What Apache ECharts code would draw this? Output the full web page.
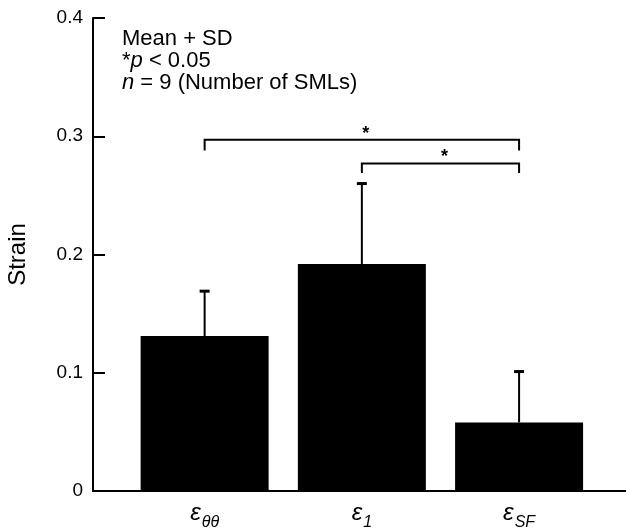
<!DOCTYPE html>
<html>
<head>
<meta charset="utf-8">
<script src="https://cdn.jsdelivr.net/npm/echarts@6/dist/echarts.min.js"></script>
<style>
  html, body { margin: 0; padding: 0; background: #fff; }
  #chart { width: 626px; height: 532px; }
</style>
</head>
<body>
<div id="chart"></div>
<script>
// strain per component (subscript of epsilon)
var subs = ['θθ', '1', 'SF'];
var means = [0.131, 0.192, 0.058];
var sds = [0.038, 0.068, 0.043];
var yTicks = [0, 0.1, 0.2, 0.3, 0.4];
// significance brackets: [from, to, bar height, leg end]
var brackets = [[1, 3, 0.297, 0.288], [2, 3, 0.277, 0.269]];

var font = 'Liberation Sans, Arial, sans-serif';
var pos = subs.map(function (s, i) { return i + 1; });

var dom = document.getElementById('chart');
var myChart = echarts.init(dom);

myChart.setOption({
    animation: false,
    grid: {
        left: 93,
        right: 0,
        top: 18,
        bottom: 41,
        outerBoundsMode: 'none'
    },
    xAxis: {
        type: 'value',
        min: 0.29,
        max: 3.68,
        splitLine: { show: false },
        axisTick: { show: false },
        axisLine: { lineStyle: { color: '#000', width: 2 } },
        axisLabel: {
            customValues: pos,
            margin: 10,
            formatter: function (v) {
                return '{e|ε}{s|' + subs[Math.round(v) - 1] + '}';
            },
            rich: {
                e: { fontFamily: font, fontSize: 24, fontStyle: 'italic', color: '#000', verticalAlign: 'top', lineHeight: 24 },
                s: { fontFamily: font, fontSize: 16, fontStyle: 'italic', color: '#000', verticalAlign: 'top', lineHeight: 24, padding: [14, 0, 0, 1] }
            }
        }
    },
    yAxis: {
        type: 'value',
        min: 0,
        max: 0.4,
        interval: 0.1,
        name: 'Strain',
        nameLocation: 'middle',
        nameGap: 63,
        nameTextStyle: { fontFamily: font, fontSize: 24, color: '#000' },
        splitLine: { show: false },
        axisLine: { show: true, lineStyle: { color: '#000', width: 2 } },
        axisTick: { show: true, inside: true, length: 12, lineStyle: { color: '#000', width: 2 } },
        axisLabel: {
            margin: 10,
            fontFamily: font,
            fontSize: 19,
            color: '#000',
            formatter: function (v) { return v === 0 ? '0' : v.toFixed(1); }
        }
    },
    graphic: [{
        type: 'text',
        left: 122,
        top: 28,
        style: {
            text: 'Mean + SD\n*{i|p} < 0.05\n{i|n} = 9 (Number of SMLs)',
            font: '22px ' + font,
            fill: '#000',
            lineHeight: 22,
            rich: {
                i: { fontFamily: font, fontSize: 22, fontStyle: 'italic', lineHeight: 22, fill: '#000' }
            }
        }
    }],
    series: [{
        type: 'bar',
        barWidth: 128,
        itemStyle: { color: '#000' },
        data: means.map(function (m, i) { return [pos[i], m]; })
    }, {
        // error bars (mean + SD only)
        type: 'custom',
        data: means.map(function (m, i) { return [pos[i], m, m + sds[i]]; }),
        renderItem: function (params, api) {
            var base = api.coord([api.value(0), api.value(1)]);
            var top = api.coord([api.value(0), api.value(2)]);
            var cap = 5;
            return {
                type: 'group',
                children: [{
                    type: 'line',
                    shape: { x1: base[0], y1: base[1], x2: top[0], y2: top[1] },
                    style: { stroke: '#000', lineWidth: 2 }
                }, {
                    type: 'line',
                    shape: { x1: top[0] - cap, y1: top[1], x2: top[0] + cap, y2: top[1] },
                    style: { stroke: '#000', lineWidth: 3 }
                }]
            };
        },
        z: 3
    }, {
        // significance brackets with asterisk
        type: 'custom',
        data: brackets,
        renderItem: function (params, api) {
            var a = api.coord([api.value(0), api.value(2)]);
            var b = api.coord([api.value(1), api.value(2)]);
            var aLeg = api.coord([api.value(0), api.value(3)]);
            var bLeg = api.coord([api.value(1), api.value(3)]);
            return {
                type: 'group',
                children: [{
                    type: 'polyline',
                    shape: { points: [aLeg, a, b, bLeg] },
                    style: { stroke: '#000', lineWidth: 2, fill: null }
                }, {
                    type: 'text',
                    x: (a[0] + b[0]) / 2 + 4,
                    y: a[1] + 3,
                    style: {
                        text: '*',
                        font: 'bold 18px ' + font,
                        fill: '#000',
                        align: 'center',
                        verticalAlign: 'bottom'
                    }
                }]
            };
        },
        z: 3
    }]
});

window.addEventListener('resize', function () {
    myChart.resize();
});
</script>
</body>
</html>
